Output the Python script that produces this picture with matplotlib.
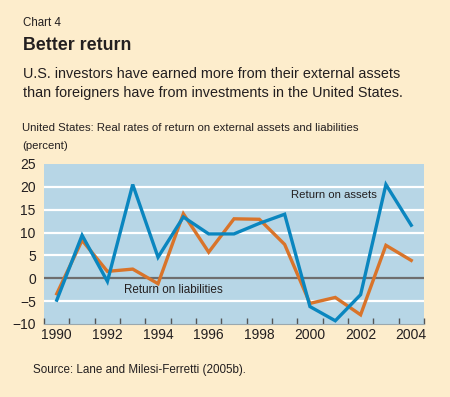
import matplotlib.pyplot as plt
import matplotlib.ticker as ticker
import numpy as np

years = np.arange(1990, 2005)
assets = [-4.8, 9.4, -0.7, 20.5, 4.6, 13.4, 9.7, 9.7, 12.0, 14.0, -6.2, -9.3, -3.6, 20.5, 11.6]
liabilities = [-3.4, 8.3, 1.5, 2.0, -1.2, 14.1, 5.7, 13.0, 12.9, 7.4, -5.5, -4.2, -8.0, 7.2, 3.9]
x_labels = ["1990", "1992", "1994", "1996", "1998", "2000", "2002", "2004"]
y_ticks = [-10, -5, 0, 5, 10, 15, 20, 25]

bg = "#FDEDCC"
panel = "#B7D6E6"
blue = "#0A86BF"
orange = "#D9742A"
txt = "#231F20"

plt.rcParams['font.family'] = ['Liberation Sans', 'DejaVu Sans']

fig = plt.figure(figsize=(4.5, 3.97), dpi=100, facecolor=bg)
ax = fig.add_axes([0.098, 0.184, 0.844, 0.403])
ax.set_facecolor(panel)

ax.set_xlim(1990, 2005)
ax.set_ylim(-10, 25)
for v in y_ticks:
    if v in (-10, 25):
        continue
    ax.axhline(v, color="#6E6E6E" if v == 0 else "white", lw=1.6, zorder=1)

xs = years + 0.5
ax.plot(xs, liabilities, color=orange, lw=2.4, zorder=3, solid_joinstyle="miter")
ax.plot(xs, assets, color=blue, lw=2.4, zorder=4, solid_joinstyle="miter")

ax.text(1999.75, 18.2, "Return on assets", fontsize=8.2, color=txt, va="center")
ax.text(1993.15, -2.6, "Return on liabilities", fontsize=8.4, color=txt, va="center")

ax.set_yticks(y_ticks)
ax.set_xticks(np.arange(1990, 2006))
ax.xaxis.set_major_formatter(ticker.NullFormatter())
ax.set_xticks([int(l) + 0.5 for l in x_labels], minor=True)
ax.set_xticklabels(x_labels, minor=True)
ax.tick_params(axis="x", which="major", direction="in", length=4, color="#555555", width=1)
ax.tick_params(axis="x", which="minor", length=0, labelsize=10, colors=txt, pad=3)
ax.tick_params(axis="y", length=0, labelsize=10, colors=txt, pad=6)
for s in ["top", "right", "left"]:
    ax.spines[s].set_visible(False)
ax.spines["bottom"].set_color("#9AA8AE")
ax.spines["bottom"].set_linewidth(0.8)

fig.text(23 / 450, 1 - 23 / 397, "Chart 4", fontsize=8.3, color=txt, va="center")
fig.text(23 / 450, 1 - 46 / 397, "Better return", fontsize=12.8, fontweight="bold", color=txt, va="center")
fig.text(23 / 450, 1 - 74 / 397, "U.S. investors have earned more from their external assets",
         fontsize=10.4, color=txt, va="center")
fig.text(23 / 450, 1 - 93 / 397, "than foreigners have from investments in the United States.",
         fontsize=10.4, color=txt, va="center")
fig.text(22 / 450, 1 - 128 / 397, "United States: Real rates of return on external assets and liabilities",
         fontsize=8.2, color=txt, va="center")
fig.text(22 / 450, 1 - 146 / 397, "(percent)", fontsize=8.2, color=txt, va="center")
fig.text(33 / 450, 1 - 370 / 397, "Source: Lane and Milesi-Ferretti (2005b).", fontsize=8.4, color=txt, va="center")

fig.savefig("out.png", dpi=100, facecolor=bg)
